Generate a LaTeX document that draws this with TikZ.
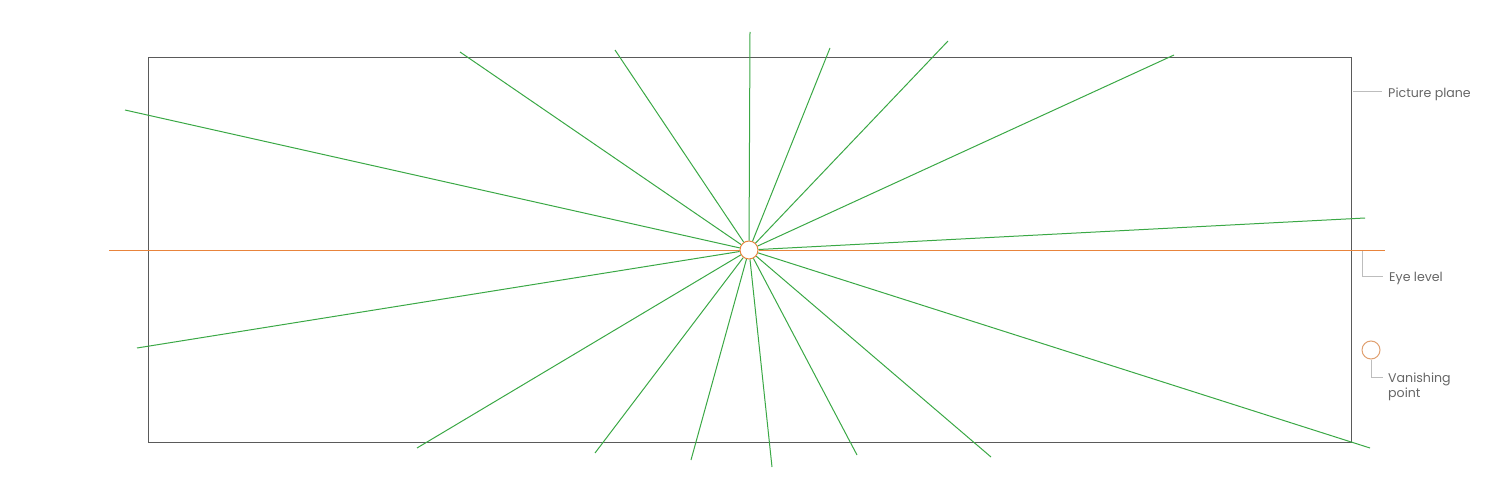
\documentclass[tikz,border=0pt]{standalone}
\usepackage{fontspec}
\setmainfont{Poppins}
\definecolor{raygreen}{HTML}{3AA845}
\definecolor{eyeorange}{HTML}{E8843C}
\definecolor{vporange}{HTML}{E0A070}
\definecolor{planegray}{HTML}{5A5A5A}
\definecolor{leadgray}{HTML}{BDBDBD}
\definecolor{labelgray}{HTML}{666666}
\tikzset{
  ray/.style={draw=raygreen, line width=1pt},
  eyeline/.style={draw=eyeorange, line width=1pt},
  plane/.style={draw=planegray, line width=1pt},
  leader/.style={draw=leadgray, line width=1pt},
  lbl/.style={anchor=west, inner sep=0pt, text=labelgray, font=\fontsize{12.6}{15}\selectfont, align=left},
  vpt/.style={circle, draw=eyeorange, fill=white, line width=1pt, minimum size=18pt, inner sep=0pt}
}
\begin{document}
\begin{tikzpicture}[x=1pt,y=-1pt]
\useasboundingbox (0,0) rectangle (1500,500);
% picture plane
\coordinate (pp1) at (148,58);
\coordinate (pp2) at (1351,442);
\draw[plane] (pp1) rectangle (pp2);
% vanishing point
\node[vpt] (vp) at (749,250) {};
% eye level
\coordinate (hl) at (109,250);
\coordinate (hr) at (1385,250);
\draw[eyeline] (hl) -- (vp);
\draw[eyeline] (vp) -- (hr);
% rays
\foreach \i/\x/\y in {1/125/110, 2/460/52, 3/615/50, 4/750/32, 5/830/48, 6/948/41, 7/1174/55, 8/1365/218, 9/1370/448, 10/991/457, 11/857/455, 12/772/467, 13/691/460, 14/595/453, 15/417/448, 16/137/348}{
  \coordinate (r\i) at (\x,\y);
  \draw[ray] (vp) -- (r\i);
}
% labels
\node[lbl] (tpp) at (1388,94) {Picture plane};
\coordinate (a1) at (1353,92);
\draw[leader] (a1) -- (1382,92);
\node[lbl] (tel) at (1389,278) {Eye level};
\coordinate (a2) at (1362,251);
\draw[leader] (a2) |- (1383,276);
\node[vpt, draw=vporange] (vpl) at (1371,350) {};
\node[lbl, anchor=north west] (tvp) at (1388,373) {Vanishing\\point};
\draw[leader] (vpl.south) |- (1383,377);
\end{tikzpicture}
\end{document}
